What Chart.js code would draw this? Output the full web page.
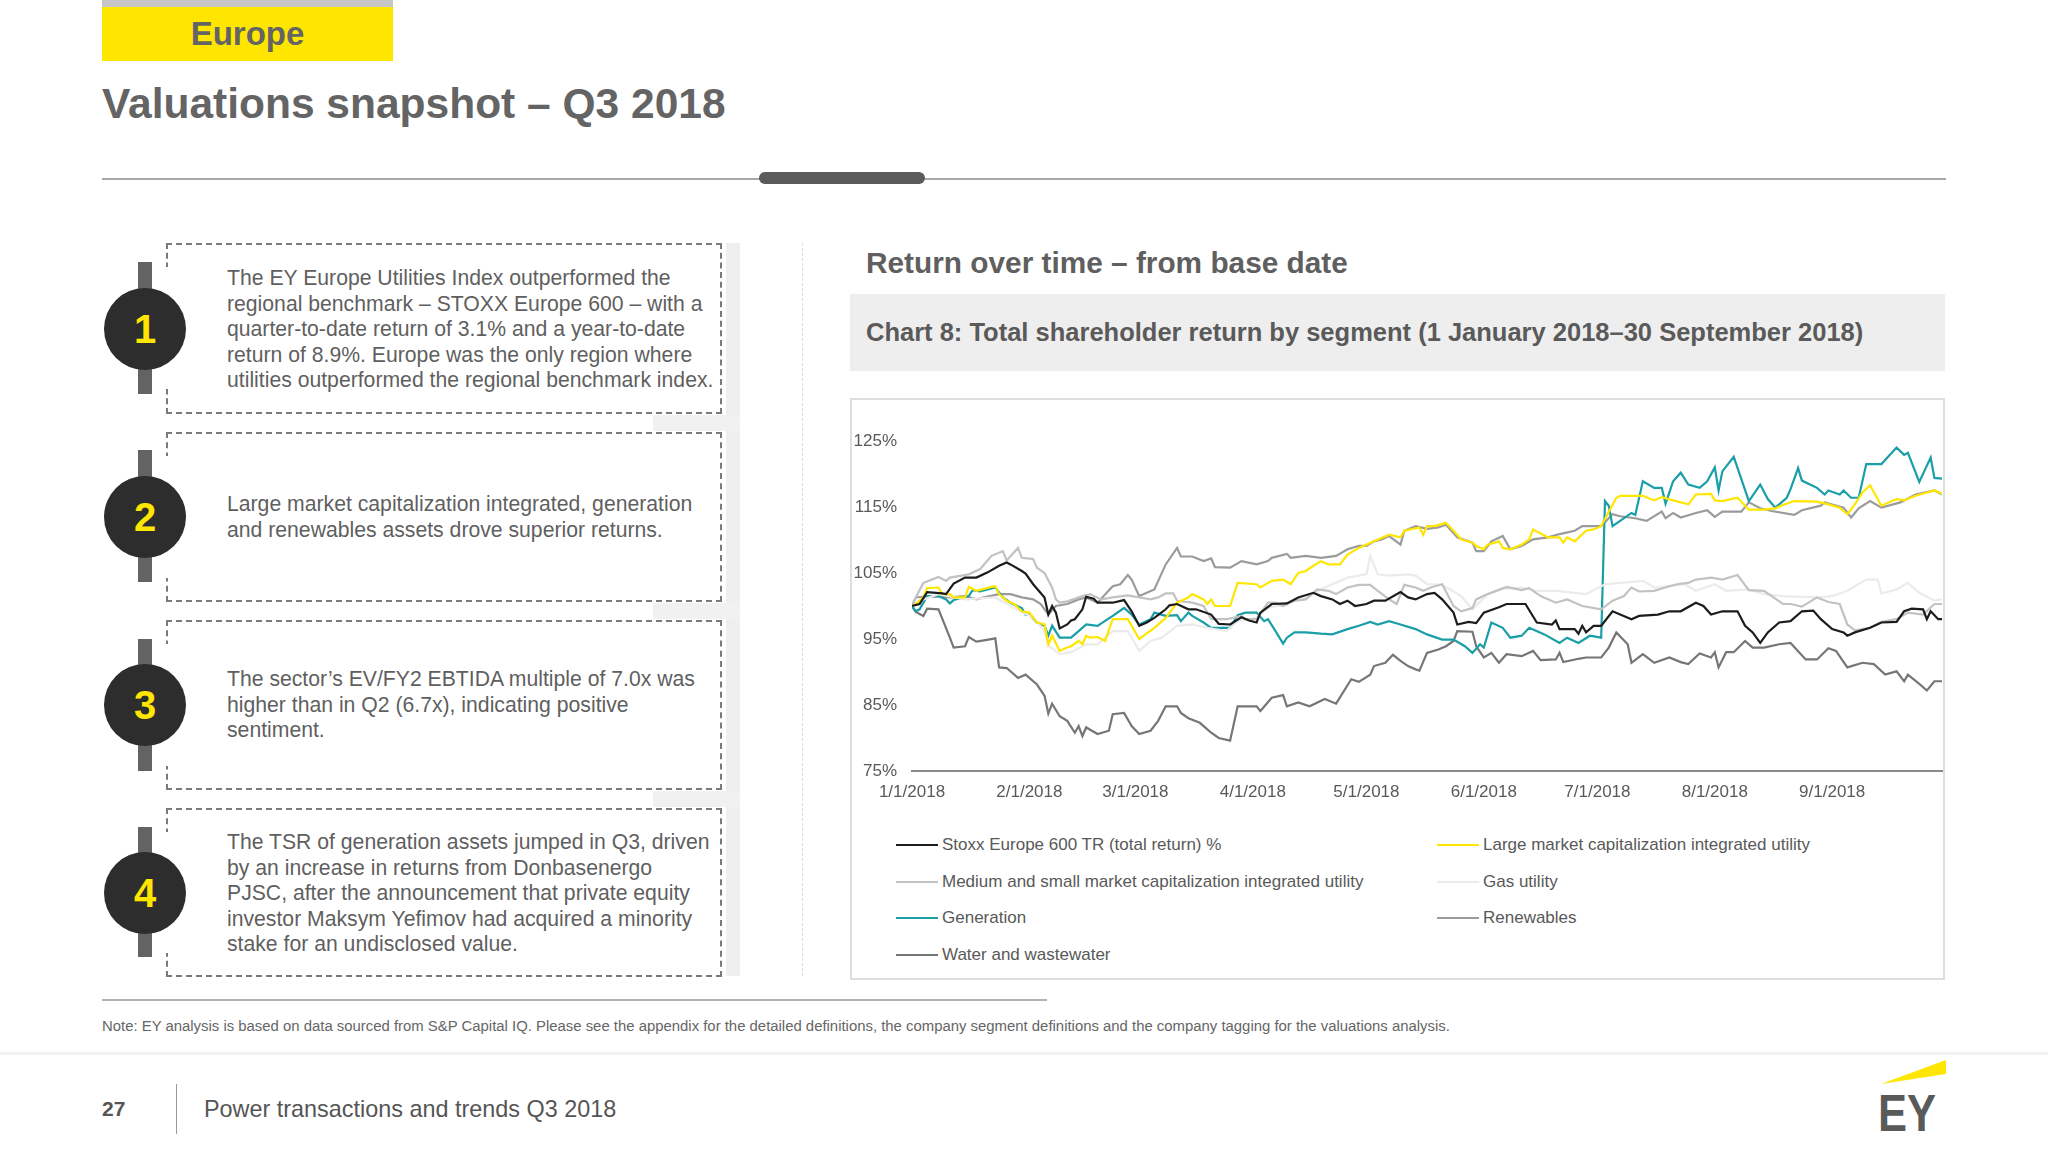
<!DOCTYPE html>
<html><head><meta charset="utf-8">
<script src="https://cdn.jsdelivr.net/npm/chart.js@4.4.1/dist/chart.umd.min.js"></script>
<style>
html,body{margin:0;padding:0;background:#fff;}
body{width:2048px;height:1151px;position:relative;overflow:hidden;font-family:"Liberation Sans",Arial,sans-serif;color:#5f5f5f;}
.a{position:absolute;}
.box{position:absolute;left:166px;width:556px;border:2px dashed #7a7a7a;background:#fff;box-sizing:border-box;}
.cover{position:absolute;left:160px;width:12px;background:#fff;}
.bar{position:absolute;left:138px;width:14px;background:#636363;}
.circ{position:absolute;left:104px;width:82px;height:82px;border-radius:50%;background:#2d2d2d;color:#ffe600;font-weight:bold;font-size:40px;line-height:82px;text-align:center;}
.txt{position:absolute;left:227px;width:500px;font-size:21.2px;line-height:25.5px;color:#5f5f5f;white-space:nowrap;}
.leg{position:absolute;font-size:17px;color:#595959;white-space:nowrap;line-height:20px;}
.leg span{display:inline-block;width:42px;height:2px;vertical-align:middle;margin-right:4px;position:relative;top:-1px;}
</style></head>
<body>
<div class="a" style="left:102px;top:0;width:291px;height:7px;background:#c6c6c6"></div>
<div class="a" style="left:102px;top:7px;width:291px;height:54px;background:#ffe600;text-align:center;font-weight:bold;font-size:33px;line-height:54px;color:#646464">Europe</div>
<div class="a" style="left:102px;top:79px;font-weight:bold;font-size:42.5px;line-height:50px;color:#646464;white-space:nowrap">Valuations snapshot – Q3 2018</div>
<div class="a" style="left:102px;top:178px;width:1844px;height:2px;background:#a8a8a8"></div>
<div class="a" style="left:759px;top:172px;width:166px;height:12px;background:#5a5a5a;border-radius:6px"></div>

<div class="a" style="left:726px;top:243px;width:14px;height:733px;background:#efefef"></div>
<div class="a" style="left:653px;top:415px;width:87px;height:16px;background:#f1f1f1"></div>
<div class="a" style="left:653px;top:603px;width:87px;height:16px;background:#f1f1f1"></div>
<div class="a" style="left:653px;top:791px;width:87px;height:16px;background:#f1f1f1"></div>

<div class="box" style="top:243px;height:171px"></div>
<div class="cover" style="top:267px;height:122px"></div>
<div class="bar" style="top:262px;height:132px"></div>
<div class="circ" style="top:288px">1</div>
<div class="txt" style="top:265px">The EY Europe Utilities Index outperformed the<br>regional benchmark – STOXX Europe 600 – with a<br>quarter-to-date return of 3.1% and a year-to-date<br>return of 8.9%. Europe was the only region where<br>utilities outperformed the regional benchmark index.</div>

<div class="box" style="top:432px;height:170px"></div>
<div class="cover" style="top:456px;height:122px"></div>
<div class="bar" style="top:450px;height:132px"></div>
<div class="circ" style="top:476px">2</div>
<div class="txt" style="top:491px">Large market capitalization integrated, generation<br>and renewables assets drove superior returns.</div>

<div class="box" style="top:620px;height:170px"></div>
<div class="cover" style="top:644px;height:122px"></div>
<div class="bar" style="top:639px;height:132px"></div>
<div class="circ" style="top:664px">3</div>
<div class="txt" style="top:666px">The sector’s EV/FY2 EBTIDA multiple of 7.0x was<br>higher than in Q2 (6.7x), indicating positive<br>sentiment.</div>

<div class="box" style="top:808px;height:169px"></div>
<div class="cover" style="top:832px;height:121px"></div>
<div class="bar" style="top:827px;height:130px"></div>
<div class="circ" style="top:852px">4</div>
<div class="txt" style="top:829px">The TSR of generation assets jumped in Q3, driven<br>by an increase in returns from Donbasenergo<br>PJSC, after the announcement that private equity<br>investor Maksym Yefimov had acquired a minority<br>stake for an undisclosed value.</div>

<div class="a" style="left:802px;top:243px;width:0;height:733px;border-left:1px dashed #dcdcdc"></div>

<div class="a" style="left:866px;top:245px;font-weight:bold;font-size:29.8px;line-height:36px;color:#5f5f5f;white-space:nowrap">Return over time – from base date</div>
<div class="a" style="left:850px;top:294px;width:1095px;height:77px;background:#efeeee"></div>
<div class="a" style="left:866px;top:317px;font-weight:bold;font-size:25.5px;line-height:30px;color:#5a5a5a;white-space:nowrap">Chart 8: Total shareholder return by segment (1 January 2018–30 September 2018)</div>
<div class="a" style="left:850px;top:398px;width:1095px;height:582px;border:2px solid #dedede;box-sizing:border-box"></div>
<canvas id="c" class="a" style="left:850px;top:421px" width="1100" height="390"></canvas>
<div id="legend"></div>

<div class="a" style="left:102px;top:999px;width:945px;height:2px;background:#b3b3b3"></div>
<div class="a" style="left:102px;top:1017px;font-size:14.9px;line-height:19px;color:#666;white-space:nowrap">Note: EY analysis is based on data sourced from S&amp;P Capital IQ. Please see the appendix for the detailed definitions, the company segment definitions and the company tagging for the valuations analysis.</div>
<div class="a" style="left:0;top:1052px;width:2048px;height:3px;background:#f2f2f2"></div>
<div class="a" style="left:102px;top:1096px;font-weight:bold;font-size:21px;line-height:26px;color:#555">27</div>
<div class="a" style="left:176px;top:1084px;width:1px;height:50px;background:#9a9a9a"></div>
<div class="a" style="left:204px;top:1094px;font-size:23.4px;line-height:30px;color:#555;white-space:nowrap">Power transactions and trends Q3 2018</div>
<svg class="a" style="left:1860px;top:1045px" width="110" height="106">
  <polygon points="21,39 86,15 86,29" fill="#ffe600"/>
  <text x="18" y="86" font-family="Liberation Sans, Arial" font-weight="bold" font-size="52" fill="#5a5a5a" textLength="58" lengthAdjust="spacingAndGlyphs">EY</text>
</svg>

<script>
// x values are days since 1 January 2018; y values are total return index (%)
const tickDays = [0,31,59,90,120,151,181,212,243];
const tickLabels = ['1/1/2018','2/1/2018','3/1/2018','4/1/2018','5/1/2018','6/1/2018','7/1/2018','8/1/2018','9/1/2018'];
const yTicks = [75,85,95,105,115,125];
const seriesNames = ['Stoxx Europe 600 TR (total return) %','Large market capitalization integrated utility','Medium and small market capitalization integrated utility','Gas utility','Generation','Renewables','Water and wastewater'];

const stoxx = [[0,100],[2,100.3],[4,102.1],[8,101.9],[9,101.8],[11,103.4],[14,104.3],[17,104.3],[20,105.1],[23,106.1],[25,106.6],[26,106.3],[29,105.3],[30,104.9],[32,103.3],[35,101.3],[36,98.7],[37,100],[38,99],[39,96.6],[41,97.2],[42,97.8],[43,98],[45,99.5],[46,101.4],[48,101.1],[49,100.5],[53,100.5],[56,100.9],[58,99.2],[60,97],[62,97.5],[64,98.2],[67,99.5],[68,100.1],[70,100.3],[73,99.5],[75,99.5],[79,98.7],[81,97.3],[84,97.2],[87,98.3],[89,97.8],[91,97.5],[92,99],[95,100.3],[99,100.4],[102,101.3],[106,102],[108,101.5],[111,101],[113,100.3],[115,100.8],[117,100],[120,100.3],[122,100.8],[125,100.8],[129,102.1],[131,101.3],[133,101],[136,101.8],[138,102],[140,101],[143,99],[144,97.2],[147,97.6],[149,97.4],[151,99],[155,99.8],[157,100.3],[162,100.3],[165,97.5],[169,97.2],[170,97.8],[171,96.5],[175,96.5],[176,95.8],[177,97],[178,96],[180,97],[182,97],[185,99.2],[190,98],[192,98.5],[197,98.7],[200,99.2],[203,99.2],[207,100.5],[209,100],[211,98.7],[214,99.2],[218,99.2],[220,97],[222,96],[224,94.4],[226,96],[229,97.5],[232,97.7],[235,99.2],[238,99.3],[240,98],[243,96.5],[246,96],[247,95.5],[249,96],[253,96.7],[256,97.5],[260,97.6],[262,99.2],[264,99.6],[267,99.5],[268,98],[269,99.2],[271,98],[272,98]];
const largeCap = [[0,100],[1,100.3],[3,101.3],[4,102.7],[7,102.8],[8,101.8],[10,101.8],[11,101.3],[14,101.3],[15,102.9],[17,102.3],[21,102.9],[22,103],[23,101.8],[25,100.8],[27,100.3],[29,99.2],[31,99],[33,97.5],[35,97.2],[36,94.2],[37,95.5],[39,93.2],[41,93.7],[42,93.9],[44,94.7],[45,94.2],[46,95.5],[47,95.2],[49,95.3],[51,94.7],[53,98],[57,98],[60,95],[64,96.7],[67,98.2],[70,100.5],[73,101.3],[74,101.8],[77,101],[78,100.3],[79,101],[80,100],[84,100],[86,103.5],[91,103.3],[92,102.8],[95,103.8],[98,104],[100,103.3],[102,105],[104,105.3],[106,106.1],[108,106.8],[110,106.3],[113,106.3],[115,107.8],[118,108.8],[122,109.8],[126,110.8],[129,110.4],[130,111.4],[134,111.9],[135,110.8],[136,112.1],[138,112.1],[141,112.6],[143,111.4],[145,110.1],[148,109.6],[149,109.1],[151,108.6],[152,109.3],[155,109.8],[156,108.8],[158,108.6],[161,109.3],[163,110.1],[164,111.6],[168,110.4],[171,110.4],[172,109.6],[173,110.4],[175,109.8],[178,111.4],[180,111.6],[182,112.1],[186,116.4],[187,116.7],[193,116.7],[196,116],[198,116.5],[201,116],[205,115.4],[207,116.9],[211,117],[212,116],[214,115.9],[218,116.4],[221,114.6],[225,114.6],[228,114.8],[230,115.3],[233,115.9],[239,115.8],[242,115.4],[245,114.9],[247,113.9],[249,115.4],[251,117.2],[253,118.3],[256,115.2],[260,116.2],[262,116],[265,116.7],[270,117.5],[272,117]];
const midSmallCap = [[0,100],[1,101.3],[3,103.5],[7,104.4],[9,103.8],[10,104.3],[15,104.8],[18,105.6],[21,107.6],[24,108.3],[25,106.9],[28,108.8],[29,107.3],[32,107.1],[33,105.8],[35,105],[37,102.8],[38,101],[39,100.5],[41,100.7],[45,101.5],[47,101.8],[50,101],[53,101.3],[57,101.6],[60,101.3],[63,101],[65,101.3],[67,101.9],[69,101.9],[70,100.8],[74,100.5],[77,100],[79,98],[83,98],[87,98.5],[88,98],[91,98],[94,100.5],[96,100.5],[98,100],[101,100.8],[104,101],[107,102.5],[110,102.3],[112,101.8],[115,102.8],[118,103.2],[121,103.2],[123,102.3],[126,101],[128,100.3],[130,103.2],[133,102.8],[135,102.3],[137,102.8],[140,103.3],[143,100],[145,99.2],[148,99.7],[149,101],[152,101.8],[157,102.9],[161,102.4],[163,102.7],[166,101.5],[170,100.5],[173,101],[177,100],[182,99.5],[185,100.8],[188,101.5],[190,102.8],[192,102.2],[196,102.3],[200,103],[202,103.3],[205,103.5],[207,104],[211,104.3],[214,104],[218,104.7],[221,102.4],[225,102.3],[230,100.3],[232,100.3],[235,99.9],[239,101.3],[242,100.6],[245,100.3],[247,97.2],[249,96.3],[253,96.7],[256,97.6],[260,98],[263,99],[267,98.7],[270,100.3],[272,100.3]];
const gasUtility = [[0,100],[3,101],[7,101.8],[14,101],[22,101.3],[27,99.7],[32,98.2],[35,96.2],[36,94],[39,92.7],[42,93],[46,94.2],[49,94.2],[53,96.2],[57,96.2],[60,93.2],[63,94.7],[66,95.2],[70,97],[74,97.2],[78,96.7],[83,96.2],[86,97.7],[91,98.2],[94,99.7],[98,100.2],[104,101.2],[109,102.8],[115,104.3],[120,104.8],[121,107.6],[123,104.8],[126,104.6],[131,104.8],[133,104.6],[136,103.3],[140,103.2],[145,101.5],[148,99.5],[152,101.8],[156,102.6],[161,102.8],[165,102.3],[170,102.3],[175,102],[178,101.8],[183,103.3],[187,103.5],[193,103.8],[196,102.8],[200,103],[204,103.3],[207,102.3],[212,103.3],[215,102.3],[221,102.5],[225,101.8],[230,101.5],[239,101.3],[243,101.5],[247,102.3],[252,104],[255,104],[256,101.9],[260,102.5],[263,103.5],[266,102],[270,100.8],[272,101]];
const generation = [[0,100],[1,99.2],[2,99.5],[4,101.5],[7,101.5],[9,101],[10,100.4],[11,100.9],[15,101.5],[16,102.4],[18,102.2],[22,102.8],[24,101.3],[26,100.5],[29,99.7],[30,98.7],[31,98.7],[33,97.5],[35,97],[36,95.5],[37,97],[39,95.2],[42,95.2],[44,96.2],[46,97.2],[49,97],[53,98.5],[56,99.7],[58,98.7],[60,97.2],[63,98],[64,99],[67,98.5],[70,98.6],[71,97.7],[73,99],[74,98.5],[77,97.5],[79,96.7],[84,96.7],[86,98.6],[88,99],[91,99],[93,97.7],[94,98],[96,96.2],[98,94.3],[99,95.2],[101,96],[104,96],[108,95.8],[111,95.7],[115,96.5],[118,97],[121,97.6],[123,97.2],[126,97.7],[129,97.2],[133,96.5],[136,95.7],[140,94.9],[143,94.9],[146,93.9],[148,92.9],[150,94.2],[151,93.7],[153,97.5],[156,96.7],[158,95.2],[161,95.5],[163,96.7],[167,95.7],[171,94.4],[173,95.2],[176,94.4],[179,95.5],[182,95.2],[183,115.9],[184,115.2],[185,112.1],[187,112.9],[190,114.1],[191,113.8],[193,118.9],[196,117.9],[198,117.9],[199,115.5],[201,118.9],[203,120.2],[205,118.4],[208,117.9],[210,118.9],[212,121],[213,117.5],[214,120.4],[217,122.6],[221,115.9],[224,118.4],[226,116.2],[228,114.9],[231,116.4],[232,117.7],[234,120.9],[235,119],[239,117.9],[241,116.9],[242,117.5],[245,116.9],[246,117.5],[248,116.4],[250,116.4],[252,121.5],[256,121.5],[260,124],[262,122.9],[263,123.2],[266,118.8],[269,122.5],[270,119.4],[272,119.3]];
const renewables = [[0,100],[1,101.3],[3,101.4],[7,101.4],[10,101.3],[14,101.5],[17,101],[19,101.3],[23,101.8],[26,101.8],[29,101.3],[32,101],[34,100.3],[36,98.7],[38,100],[41,100.3],[44,101],[46,101.3],[49,100.5],[53,103],[55,103.3],[57,104.7],[58,104],[60,101.5],[64,102.5],[67,106.3],[70,108.8],[71,107.5],[74,107.5],[77,106.8],[79,107.2],[80,105.9],[84,105.8],[87,106.8],[91,106.3],[94,106.8],[95,107.3],[99,107.9],[100,107.3],[104,107.6],[108,107.3],[112,107.6],[115,108.6],[118,109.1],[120,109.1],[122,109.8],[124,110.1],[126,110.6],[129,109.3],[130,111.4],[133,112.1],[136,111.7],[139,111.9],[141,112.3],[144,110.4],[148,109.6],[149,108.3],[151,108.3],[153,109.8],[156,110.6],[158,108.6],[161,109.1],[164,110.1],[168,110.4],[171,110.9],[175,111.4],[177,112.1],[182,112.1],[185,113.9],[187,113.6],[191,113.3],[194,112.9],[198,114.3],[199,113.3],[201,114.1],[203,113.4],[207,114.1],[210,114.5],[212,113.5],[214,114.3],[219,114.3],[221,115.7],[224,114.8],[227,114.4],[233,113.8],[235,114.5],[240,115.2],[241,115.7],[246,114.9],[248,113.4],[250,114.8],[253,115.9],[256,114.9],[261,115.7],[265,116.9],[270,117.5],[272,116.9]];
const water = [[0,100],[1,99.1],[3,98.5],[4,99.6],[7,99.5],[10,95.2],[11,93.7],[14,93.9],[15,95.3],[17,94.6],[19,94.8],[22,95.1],[23,90.7],[25,90.6],[28,89.1],[30,89.6],[33,88.1],[35,86.4],[36,83.7],[37,85.2],[39,83.3],[41,82.6],[43,80.8],[44,81.8],[45,80.3],[46,81.6],[49,80.6],[52,81.1],[53,83.6],[56,83.8],[58,81.8],[60,80.6],[63,81.1],[65,82.6],[67,84.8],[70,84.8],[71,83.8],[73,83],[76,82.3],[78,81.3],[79,80.8],[81,80],[84,79.6],[86,84.8],[91,84.8],[92,84.1],[95,86.1],[98,86.5],[99,84.8],[102,85.4],[105,84.8],[109,85.9],[112,85.2],[116,88.9],[118,88.5],[121,89.6],[122,90.9],[125,91.4],[127,92.6],[129,91.7],[131,90.9],[133,90.4],[134,90.2],[136,92.9],[139,93.4],[141,93.9],[143,94.7],[144,96.2],[148,96.1],[149,93.9],[151,92.2],[153,92.9],[155,91.4],[157,92.7],[161,92.4],[164,93.2],[166,91.8],[170,91.9],[171,92.9],[172,91.5],[176,92],[178,92.2],[182,92.2],[184,93.7],[186,96],[189,94.2],[190,91.4],[193,92.7],[196,91.4],[200,92.2],[203,91.5],[205,91.2],[208,92.8],[211,92.2],[212,93],[213,90.7],[215,93],[217,93],[220,94.7],[222,93.7],[225,93.7],[229,94.2],[232,94.4],[236,91.9],[239,91.9],[242,93.6],[244,93.2],[247,90.7],[251,91.4],[254,91.2],[257,89.6],[260,90.1],[262,88.6],[263,89.6],[266,88.2],[268,87.2],[270,88.6],[272,88.6]];

const seriesData = [stoxx, largeCap, midSmallCap, gasUtility, generation, renewables, water];
const seriesColors = ['#1c1c1c','#ffe600','#c2c2c2','#ebebeb','#1a9ea7','#9b9b9b','#767676'];

const FONT = '"Liberation Sans", Arial, sans-serif';
const datasets = seriesData.map((d,i)=>({
  label: seriesNames[i],
  data: d.map(p=>({x:p[0], y:p[1]})),
  borderColor: seriesColors[i],
  backgroundColor: seriesColors[i],
  borderWidth: 2.2,
  pointRadius: 0,
  tension: 0,
  fill: false
}));

new Chart(document.getElementById('c'), {
  type: 'line',
  data: { datasets },
  options: {
    responsive: false, animation: false, maintainAspectRatio: false,
    layout: { padding: { top: 20, right: 8, left: 0, bottom: 0 } },
    plugins: { legend: { display: false }, tooltip: { enabled: false } },
    scales: {
      x: {
        type: 'linear', min: 0, max: 272,
        afterBuildTicks: s => { s.ticks = tickDays.map(v => ({ value: v })); },
        afterFit: s => { s.height = 40; },
        ticks: { autoSkip: false, maxRotation: 0, padding: 11, color: '#595959', font: { size: 17, family: FONT },
                 callback: v => { const k = tickDays.indexOf(v); return k >= 0 ? tickLabels[k] : ''; } },
        grid: { display: false, drawTicks: false },
        border: { display: true, color: '#8a8a8a', width: 2 }
      },
      y: {
        min: 75, max: 125,
        afterBuildTicks: s => { s.ticks = yTicks.map(v => ({ value: v })); },
        afterFit: s => { s.width = 62; s.paddingTop = 0; s.paddingBottom = 0; },
        ticks: { padding: 15, color: '#595959', font: { size: 17, family: FONT }, callback: v => v + '%' },
        grid: { display: false, drawTicks: false },
        border: { display: false }
      }
    }
  }
});

// HTML legend built from the datasets (two columns)
const leg = document.getElementById('legend');
const colX = [896, 1437], rowY = [845, 882, 918, 955];
seriesNames.forEach((n,i)=>{
  const el = document.createElement('div');
  el.className = 'leg';
  el.style.left = colX[i%2] + 'px';
  el.style.top = (rowY[Math.floor(i/2)] - 10) + 'px';
  el.innerHTML = '<span style="background:'+seriesColors[i]+'"></span>' + n;
  leg.appendChild(el);
});
</script>
</body></html>
